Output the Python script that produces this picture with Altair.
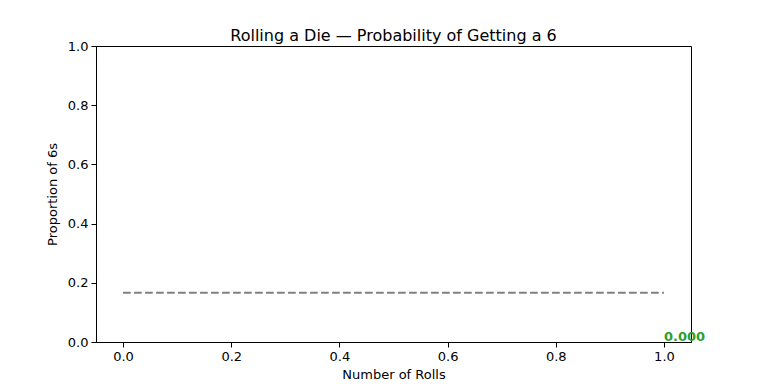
import altair as alt
import pandas as pd

ref_x = [0.0, 1.0]
ref_y = [1/6, 1/6]
label_x = [1.0]
label_y = [0.0]
label_text = ["0.000"]

ref_df = pd.DataFrame({"x": ref_x, "y": ref_y})
lab_df = pd.DataFrame({"x": label_x, "y": label_y, "t": label_text})

xs = alt.Scale(domain=[-0.05, 1.05], nice=False, zero=False)
ys = alt.Scale(domain=[0, 1], nice=False)

xax = alt.Axis(title="Number of Rolls", values=[0, 0.2, 0.4, 0.6, 0.8, 1.0], format=".1f",
               grid=False, domainColor="black", tickColor="black", tickSize=5,
               labelFont="DejaVu Sans", labelFontSize=13, labelColor="black",
               titleFont="DejaVu Sans", titleFontSize=13, titleFontWeight="normal",
               titleColor="black", titlePadding=5, labelPadding=3)
yax = alt.Axis(title="Proportion of 6s", values=[0, 0.2, 0.4, 0.6, 0.8, 1.0], format=".1f",
               grid=False, domainColor="black", tickColor="black", tickSize=5,
               labelFont="DejaVu Sans", labelFontSize=13, labelColor="black",
               titleFont="DejaVu Sans", titleFontSize=13, titleFontWeight="normal",
               titleColor="black", titlePadding=8, labelPadding=3)

line = alt.Chart(ref_df).mark_line(color="#808080", strokeWidth=2, strokeDash=[7.7, 3.3]).encode(
    x=alt.X("x:Q", scale=xs, axis=xax),
    y=alt.Y("y:Q", scale=ys, axis=yax),
)

text = alt.Chart(lab_df).mark_text(color="#2ca02c", fontWeight="bold", font="DejaVu Sans",
                                   fontSize=13, align="left", baseline="bottom", dy=2).encode(
    x=alt.X("x:Q", scale=xs),
    y=alt.Y("y:Q", scale=ys),
    text="t:N",
)

chart = (line + text).properties(
    width=595, height=296,
    title=alt.TitleParams("Rolling a Die — Probability of Getting a 6", font="DejaVu Sans",
                          fontSize=16, fontWeight="normal", color="black", offset=-4),
    autosize=alt.AutoSizeParams(type="none"),
    padding={"left": 88, "top": 38, "right": 60, "bottom": 38},
).configure_view(stroke="black", strokeWidth=1)

chart.save("out.html", embed_options={"renderer": "svg", "actions": False})
